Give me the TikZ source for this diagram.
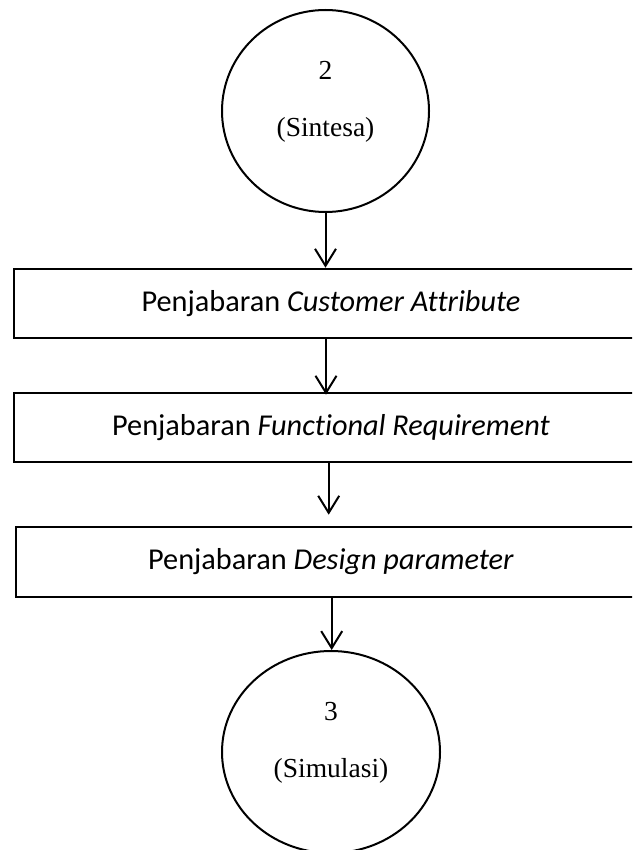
\documentclass[tikz,border=0pt]{standalone}
\usepackage{fontspec}
\setmainfont{Liberation Serif}
\newfontfamily\boxfont[Ligatures=NoCommon]{Carlito}
\usetikzlibrary{shapes.geometric,arrows.meta}

\tikzset{
  procbox/.style={draw, line width=2.6pt, rectangle, inner sep=0pt,
    font=\boxfont\fontsize{30.3}{34}\selectfont},
  procell/.style={draw, line width=2pt, ellipse, inner sep=0pt},
  celltext/.style={anchor=base, font=\fontsize{27.5}{32}\selectfont, inner sep=0pt},
  flow/.style={line width=2pt, -{Straight Barb[length=17pt,width=21pt,line width=2pt]}}
}

\begin{document}
\begin{tikzpicture}[x=1pt,y=-1pt]
  \useasboundingbox (0,0) rectangle (632,850);
  \clip (0,0) rectangle (632,850);

  % process 2
  \node[procell, minimum width=207pt, minimum height=202pt] (c2) at (325.5,111) {};
  \node[celltext] (c2num) at (325.5,80) {2};
  \node[celltext] (c2name) at (325.5,137) {(Sintesa)};

  % detailing steps
  \node[procbox, minimum width=634pt, minimum height=69pt] (b1) at (331,303.5)
    {Penjabaran \textit{Customer Attribute}};
  \node[procbox, minimum width=634pt, minimum height=69pt] (b2) at (331,427.5)
    {Penjabaran \textit{Functional Requirement}};
  \node[procbox, minimum width=630pt, minimum height=70pt] (b3) at (331,562)
    {Penjabaran \textit{Design parameter}};

  % process 3
  \node[procell, minimum width=218pt, minimum height=202pt] (c3) at (331,752) {};
  \node[celltext] (c3num) at (331,720) {3};
  \node[celltext] (c3name) at (331,777) {(Simulasi)};

  % flow
  \draw[flow] (c2.south) -- (c2.south |- b1.north);
  \draw[flow] ([xshift=-5pt]b1.south) -- ([xshift=-5pt,yshift=-3pt]b1.south |- b2.north);
  \draw[flow, shorten >=11pt] ([xshift=-2.3pt]b2.south) -- ([xshift=-2.3pt]b2.south |- b3.north);
  \draw[flow] ([xshift=0.7pt]b3.south) -- ([xshift=0.7pt]b3.south |- c3.north);
\end{tikzpicture}
\end{document}
